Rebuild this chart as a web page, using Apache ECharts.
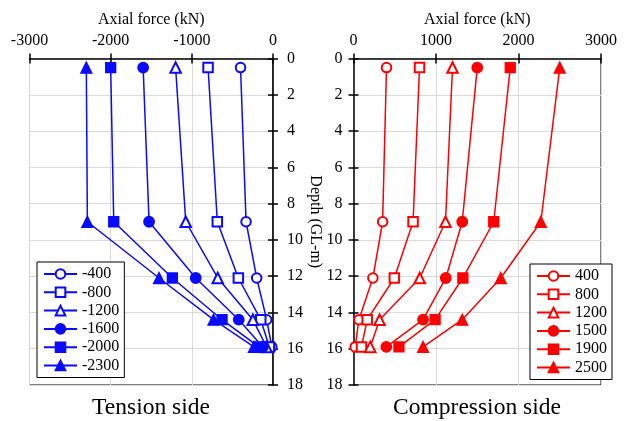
<!DOCTYPE html>
<html><head><meta charset="utf-8">
<script src="https://cdn.jsdelivr.net/npm/echarts@6/dist/echarts.min.js"></script>
<style>html,body{margin:0;padding:0;background:#fff}#c{width:627px;height:421px}</style>
</head><body><div id="c"></div>
<script>
// ---- data ----
const depth = [0.5, 9.0, 12.1, 14.4, 15.9];
const xTicksTension = [-3000, 0];      // range of tension axis
const xTicksCompression = [0, 3000];   // range of compression axis
const tensionNames = ['-400', '-800', '-1200', '-1600', '-2000', '-2300'];
const tension400  = [-400, -332, -201, -78, -15];
const tension800  = [-800, -686, -427, -151, -45];
const tension1200 = [-1200, -1075, -681, -248, -80];
const tension1600 = [-1600, -1527, -952, -422, -125];
const tension2000 = [-2000, -1962, -1240, -628, -175];
const tension2300 = [-2300, -2287, -1404, -733, -235];
const compressionNames = ['400', '800', '1200', '1500', '1900', '2500'];
const comp400  = [400, 353, 235, 65, 20];
const comp800  = [800, 722, 495, 166, 97];
const comp1200 = [1200, 1115, 803, 316, 203];
const comp1500 = [1500, 1318, 1119, 843, 398];
const comp1900 = [1900, 1700, 1326, 989, 551];
const comp2500 = [2500, 2271, 1785, 1318, 843];

// ---- chart ----
const FONT = "'Liberation Serif','Times New Roman',serif";
const BLUE = '#0a0aff', RED = '#ff0000';
const symbols = ['emptyCircle', 'emptyRect', 'emptyTriangle', 'circle', 'rect', 'triangle'];
const symSizes = [9.5, 9.5, 10.5, 10.5, 10, 11];
const plain = v => String(v);

function xMain(gi, range) {
  return {
    gridIndex: gi, type: 'value', position: 'top', min: range[0], max: range[1], interval: 1000,
    name: 'Axial force (kN)', nameLocation: 'middle', nameGap: 31,
    nameTextStyle: { fontFamily: FONT, fontSize: 16, color: '#000' },
    axisLine: { show: true, onZero: false, lineStyle: { color: '#000', width: 1.5 } },
    axisTick: { show: true, inside: false, length: 5, lineStyle: { color: '#000', width: 1.5 } },
    axisLabel: { fontFamily: FONT, fontSize: 16, color: '#000', margin: 10, formatter: plain },
    splitLine: { show: true, lineStyle: { color: '#d9d9d9', width: 1 } }
  };
}
function xInner(gi, range) {
  return {
    gridIndex: gi, type: 'value', position: 'top', min: range[0], max: range[1], interval: 1000,
    axisLine: { show: false }, axisLabel: { show: false }, splitLine: { show: false },
    axisTick: { show: true, inside: true, length: 5, lineStyle: { color: '#000', width: 1.5 } }
  };
}
function yMain(gi, pos, margin, withName) {
  const a = {
    gridIndex: gi, type: 'value', position: pos, inverse: true, min: 0, max: 18, interval: 2,
    axisLine: { show: true, onZero: false, lineStyle: { color: '#000', width: 1.5 } },
    axisTick: { show: true, inside: false, length: 5, lineStyle: { color: '#000', width: 1.5 } },
    axisLabel: { fontFamily: FONT, fontSize: 16, color: '#000', margin: margin, formatter: plain },
    splitLine: { show: true, lineStyle: { color: '#d9d9d9', width: 1 } }
  };
  if (withName) {
    a.name = 'Depth (GL-m)'; a.nameLocation = 'middle'; a.nameGap = 33; a.nameRotate = -90;
    a.nameTextStyle = { fontFamily: FONT, fontSize: 16, color: '#000' };
  }
  return a;
}
function yInner(gi, pos) {
  return {
    gridIndex: gi, type: 'value', position: pos, inverse: true, min: 0, max: 18, interval: 2,
    axisLine: { show: false }, axisLabel: { show: false }, splitLine: { show: false },
    axisTick: { show: true, inside: true, length: 5, lineStyle: { color: '#000', width: 1.5 } }
  };
}
function mkSeries(name, vals, idx, color, axisIdx) {
  return {
    name: name, type: 'line', xAxisIndex: axisIdx, yAxisIndex: axisIdx,
    data: vals.map((v, i) => [v, depth[i]]),
    symbol: symbols[idx], symbolSize: symSizes[idx],
    lineStyle: { color: color, width: 1.5 },
    itemStyle: { color: color, borderColor: color, borderWidth: 1.3 },
    emphasis: { disabled: true }
  };
}
const tensionVals = [tension400, tension800, tension1200, tension1600, tension2000, tension2300];
const compVals = [comp400, comp800, comp1200, comp1500, comp1900, comp2500];
const series = [];
tensionNames.forEach((n, i) => series.push(mkSeries(n, tensionVals[i], i, BLUE, 0)));
compressionNames.forEach((n, i) => series.push(mkSeries(n, compVals[i], i, RED, 2)));

const legendBase = {
  orient: 'vertical', padding: [4, 5, 4, 6], itemWidth: 33, itemHeight: 12, itemGap: 2.3,
  borderColor: '#000', borderWidth: 1, borderRadius: 0, backgroundColor: '#fff',
  textStyle: { fontFamily: FONT, fontSize: 16, color: '#000' }, selectedMode: false
};

const option = {
  animation: false,
  backgroundColor: '#fff',
  grid: [
    { left: 29.5, right: 627 - 273, top: 58.5, height: 326.5, show: true, borderColor: '#000', borderWidth: 1, backgroundColor: 'transparent' },
    { left: 353.5, right: 627 - 601, top: 58.5, height: 326.5, show: true, borderColor: '#000', borderWidth: 1, backgroundColor: 'transparent' }
  ],
  xAxis: [xMain(0, xTicksTension), xInner(0, xTicksTension), xMain(1, xTicksCompression), xInner(1, xTicksCompression)],
  yAxis: [yMain(0, 'right', 14, true), yInner(0, 'right'), yMain(1, 'left', 11, false), yInner(1, 'left')],
  legend: [
    Object.assign({}, legendBase, { data: tensionNames, left: 37, top: 262 }),
    Object.assign({}, legendBase, { data: compressionNames, left: 530, top: 264 })
  ],
  graphic: [
    { type: 'text', style: { text: 'Tension side', x: 151, y: 407.5, align: 'center', verticalAlign: 'middle', font: "23.5px " + FONT, fill: '#000' } },
    { type: 'text', style: { text: 'Compression side', x: 477, y: 407.5, align: 'center', verticalAlign: 'middle', font: "23.5px " + FONT, fill: '#000' } }
  ],
  series: series
};
const chart = echarts.init(document.getElementById('c'), null, { renderer: 'canvas' });
chart.setOption(option);
</script>
</body></html>
